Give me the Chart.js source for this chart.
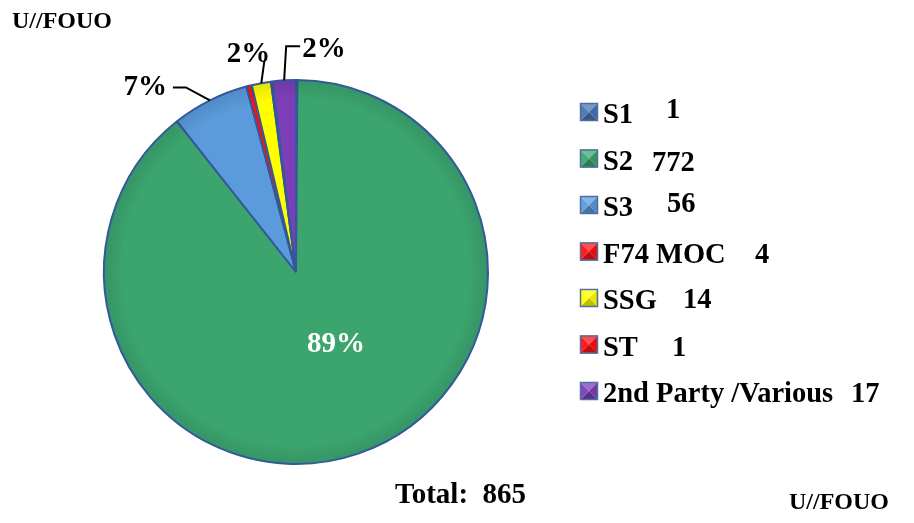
<!DOCTYPE html>
<html>
<head>
<meta charset="utf-8">
<script src="https://cdn.jsdelivr.net/npm/chart.js@4.4.1/dist/chart.umd.min.js"></script>
<style>
  html, body { margin: 0; padding: 0; background: #ffffff; }
  #wrap { position: relative; width: 914px; height: 523px; }
  canvas { display: block; }
</style>
</head>
<body>
<div id="wrap"><canvas id="c" width="914" height="523"></canvas></div>
<script>
// ---- data ----
const categories = ["S1", "S2", "S3", "F74 MOC", "SSG", "ST", "2nd Party /Various"];
const counts = [1, 772, 56, 4, 14, 1, 17];
const pctLabels = ["", "89%", "7%", "", "2%", "", "2%"];
const totalText = "Total:  865";
const markingText = "U//FOUO";

// ---- styles / layout ----
const sliceColors = ["#4A74B4", "#3CA56E", "#5B9BDB", "#FF1010", "#FFFF00", "#FF1010", "#7C3FB8"];
const borderCol = "#34589A";
const FONT = 'bold 29px "Liberation Serif", "Times New Roman", serif';
const FONT_LEG = 'bold 28.5px "Liberation Serif", "Times New Roman", serif';
const FONT_SMALL = 'bold 24px "Liberation Serif", "Times New Roman", serif';
const legendX = 580, legendTop = 112, legendStep = 46.5;
const legendNumX = [666, 652, 667, 755, 683, 672, 851];
const legendNumDy = [-5, 1, -4, 0, -1, 0, 0];

const labelLayout = {
  2: { path: [[-24, -13], [-37, -13]], text: [-43, -13], align: "right" },
  4: { path: [[3, -22]], text: [9, -29], align: "right" },
  6: { path: [[2, -34], [16, -34]], text: [18, -31], align: "left" }
};

function shade(hex, f) {
  const n = parseInt(hex.slice(1), 16);
  let r = (n >> 16) & 255, g = (n >> 8) & 255, b = n & 255;
  const m = c => Math.max(0, Math.min(255, Math.round(f > 0 ? c + (255 - c) * f : c * (1 + f))));
  return `rgb(${m(r)},${m(g)},${m(b)})`;
}

const overlay = {
  id: "overlay",
  afterDatasetsDraw(chart) {
    const ctx = chart.ctx;
    const meta = chart.getDatasetMeta(0);
    ctx.save();
    // subtle bevel at rim
    const a0 = meta.data[0];
    const g = ctx.createRadialGradient(a0.x, a0.y, a0.outerRadius * 0.9, a0.x, a0.y, a0.outerRadius);
    g.addColorStop(0, "rgba(0,0,0,0)");
    g.addColorStop(1, "rgba(0,30,60,0.12)");
    ctx.beginPath();
    ctx.arc(a0.x, a0.y, a0.outerRadius - 1, 0, Math.PI * 2);
    ctx.fillStyle = g;
    ctx.fill();

    ctx.font = FONT;
    meta.data.forEach((arc, i) => {
      const txt = pctLabels[i];
      if (!txt) return;
      const mid = (arc.startAngle + arc.endAngle) / 2;
      if (i === 1) {
        ctx.fillStyle = "#ffffff";
        ctx.textAlign = "center";
        ctx.textBaseline = "middle";
        ctx.fillText(txt, arc.x + arc.outerRadius * 0.4 * Math.cos(mid) + 15, arc.y + arc.outerRadius * 0.4 * Math.sin(mid));
        return;
      }
      const ax = arc.x + arc.outerRadius * Math.cos(mid);
      const ay = arc.y + arc.outerRadius * Math.sin(mid);
      const L = labelLayout[i];
      ctx.strokeStyle = "#000";
      ctx.lineWidth = 2;
      ctx.beginPath();
      ctx.moveTo(ax, ay);
      L.path.forEach(([dx, dy]) => ctx.lineTo(ax + dx, ay + dy));
      ctx.stroke();
      ctx.fillStyle = "#000";
      ctx.textAlign = L.align;
      ctx.textBaseline = "middle";
      ctx.fillText(txt, ax + L.text[0], ay + L.text[1]);
    });

    // legend
    categories.forEach((name, i) => {
      const cy = legendTop + i * legendStep;
      const x0 = legendX, y0 = cy - 9, s = 18;
      const col = sliceColors[i];
      const cx = x0 + s / 2, cyy = y0 + s / 2;
      const tri = (pts, fill) => {
        ctx.beginPath();
        ctx.moveTo(pts[0][0], pts[0][1]);
        pts.slice(1).forEach(p => ctx.lineTo(p[0], p[1]));
        ctx.closePath();
        ctx.fillStyle = fill;
        ctx.fill();
      };
      tri([[x0, y0], [x0 + s, y0], [cx, cyy]], shade(col, 0.25));
      tri([[x0 + s, y0], [x0 + s, y0 + s], [cx, cyy]], shade(col, -0.1));
      tri([[x0, y0 + s], [x0 + s, y0 + s], [cx, cyy]], shade(col, -0.25));
      tri([[x0, y0], [x0, y0 + s], [cx, cyy]], shade(col, 0.05));
      ctx.strokeStyle = "#4F6F9F";
      ctx.lineWidth = 1.5;
      ctx.strokeRect(x0 + 0.5, y0 + 0.5, s - 1, s - 1);

      ctx.fillStyle = "#000";
      ctx.font = FONT_LEG;
      ctx.textAlign = "left";
      ctx.textBaseline = "alphabetic";
      ctx.fillText(name, 603, cy + 11);
      ctx.fillText(String(counts[i]), legendNumX[i], cy + 11 + legendNumDy[i]);
    });

    ctx.fillStyle = "#000";
    ctx.font = FONT;
    ctx.textAlign = "left";
    ctx.textBaseline = "alphabetic";
    ctx.fillText(totalText, 395, 503);
    ctx.font = FONT_SMALL;
    ctx.fillText(markingText, 12, 28);
    ctx.textAlign = "right";
    ctx.fillText(markingText, 889, 509);
    ctx.restore();
  }
};

new Chart(document.getElementById("c"), {
  type: "pie",
  data: {
    labels: categories,
    datasets: [{
      data: counts,
      backgroundColor: sliceColors,
      borderColor: borderCol,
      borderWidth: 2,
      borderAlign: "center"
    }]
  },
  options: {
    responsive: false,
    animation: false,
    rotation: 0,
    layout: { padding: { left: 103, right: 425, top: 79, bottom: 58 } },
    plugins: {
      legend: { display: false },
      tooltip: { enabled: false },
      title: { display: false }
    }
  },
  plugins: [overlay]
});
</script>
</body>
</html>
